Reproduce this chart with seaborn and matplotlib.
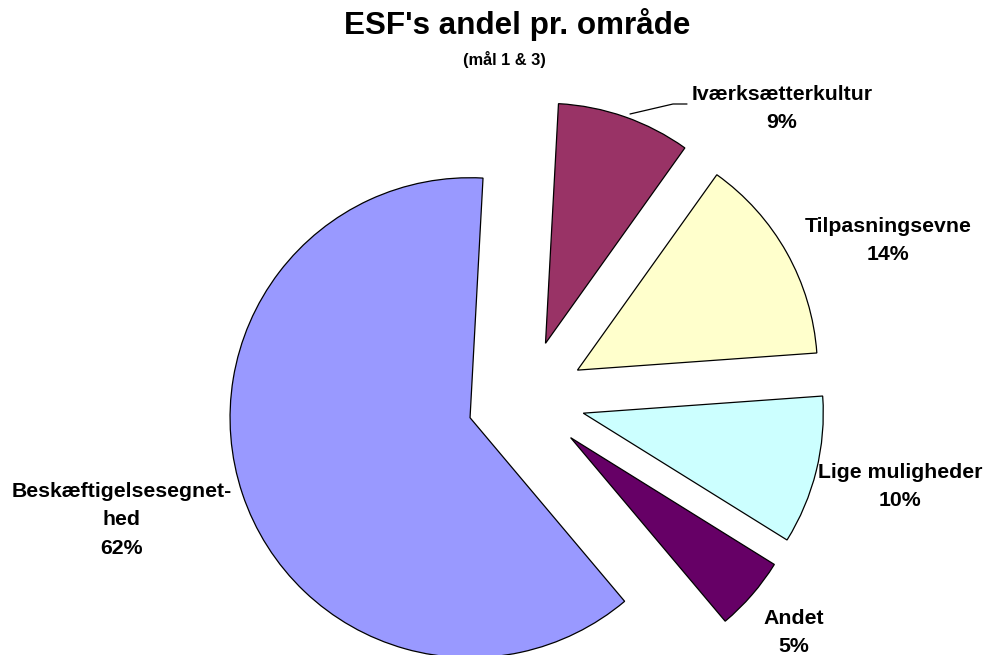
import matplotlib
matplotlib.use("Agg")
import matplotlib.pyplot as plt
import seaborn as sns

# ---- data ----
categories = ["Iværksætterkultur", "Tilpasningsevne", "Lige muligheder", "Andet", "Beskæftigelsesegnethed"]
values = [9, 14, 10, 5, 62]
label_lines = [
    ["Iværksætterkultur"],
    ["Tilpasningsevne"],
    ["Lige muligheder"],
    ["Andet"],
    ["Beskæftigelsesegnet-", "hed"],
]
title = "ESF's andel pr. område"
subtitle = "(mål 1 & 3)"

# ---- style ----
colors = ["#993366", "#FFFFCC", "#CCFFFF", "#660066", "#9999FF"]
sns.set_theme(style="white")
plt.rcParams["font.family"] = ["Liberation Sans", "DejaVu Sans"]

W, H = 998, 655
fig = plt.figure(figsize=(W / 100, H / 100), dpi=100)
ax = fig.add_axes([0, 0, 1, 1])

def py(y):
    return H - y

cx, cy, r, expl = 526, py(399), 240, 59
ax.pie(values, colors=colors, startangle=86.9, counterclock=False,
       center=(cx, cy), radius=r, explode=[expl] * len(values),
       wedgeprops=dict(edgecolor="black", linewidth=0.9))

ax.set_xlim(0, W)
ax.set_ylim(0, H)
ax.set_aspect("equal")
ax.axis("off")

# labels: (x centre, first baseline) in pixels
label_pos = [(782, 100), (888, 232), (900, 478), (794, 624), (122, 497)]
pitch = 28.4
fs = 15.3
for lines, v, (lx, ly) in zip(label_lines, values, label_pos):
    for i, t in enumerate(lines + [f"{v}%"]):
        ax.text(lx, py(ly + i * pitch), t, ha="center", va="baseline",
                fontsize=fs, fontweight="bold", color="black")

# leader line for Iværksætterkultur
ax.plot([630, 673, 687], [py(114), py(104), py(104)], color="black", linewidth=0.9)

ax.text(517, py(34), title, ha="center", va="baseline",
        fontsize=22.6, fontweight="bold", color="black")
ax.text(504, py(65), subtitle, ha="center", va="baseline",
        fontsize=11.8, fontweight="bold", color="black")

fig.savefig("out.png", dpi=100, facecolor="white")
